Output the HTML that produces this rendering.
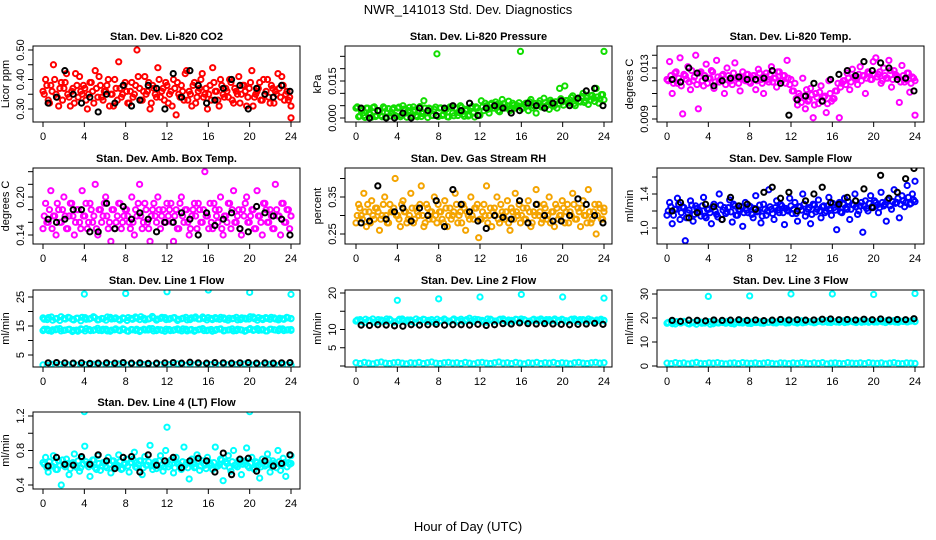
<!DOCTYPE html>
<html><head><meta charset="utf-8"><style>
html,body{margin:0;padding:0;background:#fff;}
svg{display:block;font-family:"Liberation Sans",sans-serif;}
</style></head><body>
<svg id="chart" width="936" height="540" viewBox="0 0 936 540" xmlns="http://www.w3.org/2000/svg">
<rect width="936" height="540" fill="#fff"/>
<text x="468" y="14" text-anchor="middle" font-size="13">NWR_141013  Std. Dev. Diagnostics</text>
<text x="468" y="531" text-anchor="middle" font-size="13">Hour of Day (UTC)</text>
</svg>
<script>
const xTicks=[0,4,8,12,16,20,24];
const co2Color=[0.36,0.40,0.33,0.38,0.45,0.35,0.31,0.39,0.37,0.42,0.34,0.36,0.32,0.38,0.41,0.35,0.37,0.30,0.39,0.36,0.43,0.34,0.38,0.33,0.36,0.40,0.35,0.31,0.37,0.46,0.34,0.38,0.36,0.32,0.39,0.35,0.50,0.37,0.33,0.41,0.36,0.30,0.38,0.35,0.44,0.34,0.37,0.39,0.32,0.36,0.40,0.28,0.35,0.38,0.33,0.43,0.36,0.31,0.39,0.34,0.37,0.42,0.35,0.30,0.38,0.44,0.36,0.33,0.40,0.35,0.37,0.34,0.39,0.32,0.36,0.41,0.35,0.38,0.31,0.37,0.43,0.34,0.36,0.39,0.33,0.35,0.40,0.32,0.37,0.36,0.42,0.34,0.38,0.35,0.33,0.27];
const co2ColorB=[0.35,0.38,0.32,0.36,0.40,0.34,0.37,0.33,0.39,0.35,0.31,0.37,0.42,0.34,0.36,0.38,0.33,0.35,0.39,0.32,0.37,0.41,0.34,0.36,0.38,0.31,0.35,0.40,0.33,0.37,0.35,0.39,0.32,0.36,0.34,0.38,0.41,0.33,0.36,0.35,0.39,0.32,0.37,0.34,0.40,0.36,0.33,0.38,0.35,0.31,0.37,0.39,0.34,0.36,0.42,0.33,0.35,0.38,0.32,0.36,0.40,0.34,0.37,0.35,0.33,0.39,0.36,0.31,0.38,0.34,0.36,0.40,0.33,0.37,0.35,0.32,0.38,0.36,0.34,0.39,0.31,0.35,0.37,0.33,0.40,0.36,0.34,0.38,0.32,0.35,0.37,0.41,0.33,0.36,0.34,0.31];
const co2Black=[0.32,0.34,0.43,0.35,0.32,0.34,0.29,0.35,0.32,0.38,0.31,0.33,0.38,0.37,0.30,0.42,0.34,0.43,0.38,0.32,0.33,0.37,0.40,0.38,0.30,0.37,0.35,0.34,0.38,0.36];
const presColor=[0.004,0.0005,0.003,0.001,0.004,0.002,0.0003,0.0045,0.001,0.003,0.0005,0.004,0.002,0.0008,0.0035,0.001,0.004,0.0005,0.005,0.002,0.003,0.0004,0.0045,0.001,0.003,0.0006,0.007,0.002,0.004,0.001,0.0035,0.026,0.004,0.001,0.003,0.0005,0.0045,0.002,0.004,0.001,0.005,0.0015,0.003,0.0008,0.004,0.002,0.0045,0.001,0.007,0.003,0.005,0.002,0.006,0.004,0.0055,0.0025,0.0075,0.004,0.005,0.003,0.006,0.004,0.005,0.027,0.004,0.006,0.003,0.0075,0.005,0.002,0.006,0.0045,0.008,0.005,0.0035,0.0065,0.005,0.004,0.012,0.0065,0.013,0.007,0.006,0.009,0.005,0.008,0.0065,0.01,0.007,0.0055,0.009,0.008,0.012,0.006,0.0095,0.027];
const presColorB=[0.0045,0.0008,0.0035,0.0002,0.004,0.0015,0.0042,0.0006,0.003,0.001,0.0045,0.0004,0.0038,0.002,0.0041,0.0007,0.0044,0.0012,0.0036,0.0003,0.0043,0.0009,0.0033,0.0005,0.0046,0.0018,0.004,0.0002,0.0037,0.001,0.0044,0.0006,0.0041,0.0014,0.0035,0.0004,0.0045,0.0009,0.0039,0.0022,0.0043,0.0007,0.0036,0.0012,0.0047,0.0004,0.004,0.0011,0.0045,0.006,0.0035,0.0055,0.004,0.0065,0.003,0.005,0.0058,0.0042,0.0068,0.0036,0.0052,0.0047,0.0062,0.0038,0.0055,0.0048,0.0066,0.0041,0.0059,0.005,0.007,0.0044,0.0062,0.0053,0.0072,0.0048,0.0066,0.0057,0.0078,0.0052,0.0071,0.0062,0.0083,0.0058,0.0075,0.0068,0.0088,0.0063,0.0081,0.0072,0.0092,0.0067,0.0085,0.0077,0.0095,0.0074];
const presBlack=[0.004,0,0.003,0,0,0.002,0,0.004,0.003,0.001,0.004,0.005,0.003,0.006,0.001,0.004,0.005,0.004,0.002,0.003,0.006,0.005,0.004,0.006,0.007,0.005,0.008,0.011,0.012,0.005];
const tempColor=[.0121,.0135,.0110,.0126,.0118,.0138,.0094,.0124,.0131,.0113,.0120,.0140,.0098,.0127,.0116,.0133,.0122,.0128,.0114,.0136,.0119,.0124,.0110,.0130,.0121,.0117,.0134,.0123,.0112,.0127,.0120,.0125,.0118,.0124,.0113,.0129,.0121,.0110,.0126,.0119,.0131,.0122,.0115,.0127,.0120,.0124,.0136,.0117,.0112,.0118,.0101,.0108,.0122,.0098,.0104,.0114,.0091,.0110,.0102,.0116,.0107,.0095,.0120,.0104,.0106,.0112,.0091,.0118,.0120,.0126,.0113,.0129,.0122,.0117,.0131,.0124,.0110,.0127,.0121,.0135,.0138,.0125,.0118,.0130,.0122,.0136,.0115,.0128,.0124,.0103,.0132,.0119,.0126,.0111,.0123,.0093];
const tempColorB=[.0120,.0124,.0118,.0127,.0122,.0116,.0125,.0121,.0119,.0128,.0123,.0117,.0126,.0120,.0124,.0118,.0122,.0127,.0119,.0123,.0121,.0125,.0117,.0124,.0120,.0126,.0122,.0118,.0123,.0121,.0125,.0119,.0122,.0124,.0120,.0126,.0118,.0123,.0121,.0125,.0119,.0122,.0127,.0120,.0124,.0118,.0122,.0121,.0112,.0106,.0110,.0103,.0108,.0113,.0105,.0109,.0101,.0107,.0111,.0104,.0108,.0102,.0110,.0106,.0112,.0118,.0115,.0120,.0117,.0122,.0119,.0123,.0121,.0125,.0120,.0124,.0122,.0126,.0121,.0125,.0123,.0127,.0120,.0124,.0122,.0128,.0121,.0125,.0123,.0119,.0124,.0121,.0126,.0118,.0122,.0120];
const tempBlack=[.0121,.0119,.0130,.0126,.0122,.0116,.0120,.0122,.0123,.0121,.0121,.0122,.0128,.0118,.0093,.0105,.0108,.0118,.0104,.0121,.0125,.0128,.0124,.0135,.0128,.0134,.0130,.0121,.0122,.0112];
const ambColor=[.15,.19,.16,.21,.17,.14,.18,.16,.20,.15,.17,.19,.14,.18,.16,.21,.17,.15,.19,.16,.22,.14,.18,.17,.20,.15,.13,.18,.16,.19,.15,.17,.18,.16,.20,.14,.17,.22,.15,.19,.16,.13,.18,.17,.20,.15,.18,.16,.17,.19,.13,.18,.15,.20,.16,.18,.14,.17,.19,.15,.18,.16,.24,.17,.19,.15,.18,.16,.20,.14,.17,.19,.15,.21,.16,.18,.14,.17,.20,.16,.18,.15,.21,.17,.14,.19,.16,.18,.15,.22,.17,.14,.19,.16,.18,.17];
const ambColorB=[.17,.16,.18,.15,.17,.19,.16,.18,.17,.15,.19,.17,.16,.18,.15,.17,.19,.16,.18,.17,.15,.18,.16,.19,.17,.16,.18,.15,.17,.19,.16,.18,.17,.15,.16,.18,.19,.17,.16,.18,.15,.17,.19,.16,.18,.17,.16,.19,.18,.16,.17,.15,.19,.17,.18,.16,.15,.18,.17,.19,.16,.18,.17,.15,.16,.19,.17,.18,.15,.17,.16,.19,.18,.16,.17,.15,.18,.19,.16,.17,.18,.15,.17,.16,.19,.18,.16,.17,.15,.18,.17,.19,.16,.18,.15,.17];
const ambBlack=[.165,.16,.165,.18,.18,.145,.145,.19,.15,.185,.165,.175,.165,.145,.16,.16,.175,.165,.14,.175,.155,.165,.175,.15,.145,.185,.175,.17,.165,.14];
const rhColor=[.28,.33,.30,.36,.27,.31,.34,.29,.32,.26,.30,.35,.28,.33,.31,.40,.30,.27,.34,.31,.29,.36,.28,.32,.30,.38,.27,.33,.29,.31,.35,.28,.31,.29,.34,.27,.32,.30,.36,.28,.31,.33,.26,.30,.35,.29,.32,.24,.29,.33,.38,.30,.27,.32,.35,.28,.31,.29,.34,.26,.31,.36,.30,.28,.32,.29,.34,.27,.31,.37,.30,.28,.33,.29,.35,.31,.27,.32,.30,.34,.28,.33,.31,.36,.29,.32,.27,.34,.30,.37,.28,.31,.25,.33,.29,.32];
const rhColorB=[.30,.32,.29,.31,.33,.28,.30,.32,.31,.29,.33,.30,.28,.31,.32,.30,.29,.33,.31,.28,.30,.32,.29,.31,.33,.30,.28,.32,.31,.29,.30,.33,.31,.28,.32,.30,.29,.31,.33,.30,.28,.32,.31,.29,.30,.32,.33,.29,.31,.30,.28,.32,.31,.30,.29,.33,.30,.31,.28,.32,.29,.31,.33,.30,.29,.32,.31,.28,.30,.33,.31,.29,.32,.30,.28,.31,.33,.29,.30,.32,.31,.28,.30,.33,.29,.31,.32,.30,.28,.31,.29,.33,.30,.32,.29,.31];
const rhBlack=[.28,.285,.38,.29,.31,.32,.285,.32,.30,.34,.27,.37,.33,.31,.285,.265,.30,.295,.29,.34,.28,.33,.30,.285,.285,.30,.345,.33,.30,.28];
const flowColor=[1.15,1.30,1.05,1.22,1.35,1.10,1.25,0.85,1.18,1.32,1.08,1.26,1.20,1.14,1.36,1.12,1.22,1.05,1.28,1.16,1.40,1.10,1.24,1.19,1.33,1.07,1.26,1.15,1.21,1.02,1.30,1.18,1.25,1.12,1.38,1.20,1.06,1.28,1.15,1.45,1.22,1.10,1.32,1.18,1.26,1.04,1.21,1.35,1.17,1.30,1.08,1.25,1.40,1.14,1.22,1.05,1.28,1.19,1.33,1.12,1.26,1.20,1.36,1.15,1.24,0.98,1.30,1.18,1.35,1.22,1.10,1.28,1.40,1.16,1.26,0.95,1.32,1.20,1.38,1.24,1.30,1.18,1.42,1.26,1.08,1.35,1.22,1.45,1.30,1.12,1.38,1.25,1.50,1.28,1.40,1.55];
const flowColorB=[1.20,1.25,1.15,1.22,1.28,1.18,1.24,1.12,1.21,1.27,1.16,1.23,1.19,1.26,1.14,1.22,1.18,1.25,1.20,1.13,1.27,1.21,1.17,1.24,1.19,1.28,1.15,1.22,1.25,1.18,1.21,1.26,1.16,1.23,1.19,1.27,1.14,1.22,1.20,1.25,1.17,1.24,1.21,1.28,1.18,1.23,1.20,1.26,1.22,1.17,1.25,1.21,1.28,1.19,1.24,1.16,1.27,1.22,1.20,1.25,1.18,1.26,1.23,1.29,1.21,1.26,1.19,1.28,1.24,1.31,1.22,1.27,1.25,1.20,1.30,1.26,1.23,1.29,1.25,1.32,1.27,1.24,1.30,1.28,1.33,1.26,1.31,1.29,1.35,1.28,1.32,1.30,1.36,1.29,1.33,1.31];
const flowBlack=[1.20,1.30,1.12,1.18,1.28,1.25,1.10,1.36,1.26,1.28,1.22,1.42,1.48,1.35,1.42,1.20,1.32,1.40,1.48,1.30,1.28,1.36,1.32,1.46,1.24,1.62,1.35,1.42,1.58,1.70];
const l1Top=[17.8,17.2,18.1,17.5,16.9,17.6,18.0,17.3,17.7,16.8,17.9,17.4,18.2,17.1,17.6,17.0,18.0,17.5,17.3,17.8,16.9,17.6,18.1,17.2,17.7,17.4,18.3,17.0,17.6,17.9,17.3,17.8,16.9,17.5,18.0,17.2,17.7,17.4,18.1,17.1,17.6,17.9,17.3,17.8,17.0,17.5,18.0,17.2,17.7,17.4,18.1,17.0,17.6,17.9,17.3,17.8,17.1,17.5,18.0,17.6];
const l1TopB=[17.3,17.9,17.0,17.6,18.2,17.4,17.8,17.1,17.7,18.0,17.3,17.6,17.9,17.2,17.5,18.1,17.4,17.8,17.0,17.6,17.9,17.3,17.7,18.2,17.1,17.5,17.8,17.4,18.0,17.2,17.6,17.9,17.3,17.7,17.1,17.8,18.1,17.4,17.6,17.9,17.2,17.5,18.0,17.3,17.7,17.6,17.1,17.8,17.4,18.2,17.5,17.9,17.2,17.6,18.0,17.4,17.7,17.3,17.8,17.5];
const l1Mid=[13.4,13.9,13.2,13.7,14.1,13.5,13.8,13.1,13.6,14.0,13.3,13.8,13.5,14.2,13.4,13.9,13.2,13.7,13.6,14.0,13.3,13.8,13.5,13.1,13.9,13.6,14.1,13.4,13.7,13.2,13.8,13.5,14.0,13.3,13.9,13.6,13.2,13.7,14.1,13.4,13.8,13.5,13.9,13.3,13.6,14.0,13.4,13.7,13.2,13.8,13.5,14.1,13.6,13.3,13.9,13.7,13.4,14.0,13.6,13.8];
const l1MidB=[13.9,13.4,13.7,14.0,13.3,13.6,13.9,13.5,13.2,13.8,14.1,13.4,13.7,13.5,13.9,13.3,13.6,14.0,13.4,13.8,13.2,13.7,13.9,13.5,13.6,14.1,13.3,13.8,13.5,13.9,13.4,13.7,13.6,14.0,13.3,13.8,13.5,13.9,13.4,13.6,13.2,13.8,14.0,13.5,13.7,13.3,13.9,13.6,13.4,14.1,13.7,13.5,13.8,13.3,13.9,13.6,14.0,13.4,13.7,13.5];
const l1Low=[1.6,1.4,1.8,1.5,1.7,1.3,1.6,1.9,1.5,1.4,1.7,1.6,1.8,1.5,1.3,1.6,1.7,1.4,1.9,1.6,1.5,1.8,1.4,1.6,1.7,1.5,1.3,1.8,1.6,1.4,1.7,1.5,1.9,1.6,1.4,1.7,1.5,1.8,1.3,1.6,1.7,1.5,1.4,1.8,1.6,1.5,1.7,1.4,1.9,1.6,1.5,1.7,1.3,1.6,1.8,1.5,1.4,1.7,1.6,1.5];
const l1Black=[2.3,2.4,2.3,2.2,2.3,2.1,2.2,2.3,2.2,2.4,2.2,2.3,2.1,2.2,2.3,2.4,2.2,2.5,2.3,2.2,2.4,2.3,2.2,2.3,2.4,2.2,2.3,2.2,2.3,2.4];
const l1OutHours=[4,8,12,16,20,24];
const l1Out=[26.0,26.2,26.8,27.4,26.6,25.9];
const l2Top=[12.3,12.7,11.9,12.5,12.9,12.1,12.6,12.2,12.8,12.0,12.4,12.9,12.3,12.6,11.9,12.5,12.8,12.2,12.7,12.0,12.4,12.9,12.3,12.6,12.1,12.8,12.4,13.1,12.2,12.7,12.5,12.0,12.8,12.3,12.6,12.9,12.1,12.5,12.8,12.3,12.7,12.0,12.6,12.4,12.9,12.2,12.7,12.5,12.1,12.8,12.4,12.6,12.9,12.2,12.7,12.3,12.6,12.1,12.5,12.4];
const l2TopB=[12.6,12.2,12.8,12.4,12.0,12.7,12.3,12.9,12.5,12.1,12.8,12.4,12.6,12.2,12.9,12.3,12.7,12.5,12.1,12.8,12.4,12.6,12.2,12.9,12.5,12.3,12.7,12.4,12.8,12.6,12.2,12.9,12.5,12.3,12.8,12.4,12.6,12.2,12.7,12.9,12.5,12.3,12.8,12.6,12.4,12.7,12.3,12.9,12.5,12.6,12.2,12.8,12.4,12.7,12.5,12.9,12.3,12.6,12.8,12.5];
const l2Low=[0.9,0.7,1.0,0.8,0.6,0.9,1.1,0.8,0.7,0.9,1.0,0.8,0.6,0.9,0.8,1.0,0.7,0.9,1.1,0.8,0.7,0.9,1.0,0.8,0.9,0.7,1.0,0.8,0.6,0.9,1.0,0.8,0.7,0.9,1.1,0.8,0.9,0.7,1.0,0.8,0.6,0.9,0.8,1.0,0.7,0.9,0.8,1.0,0.7,0.9,0.8,0.6,0.9,1.0,0.8,0.7,0.9,1.0,0.8,0.9];
const l2Black=[11.2,11.1,11.3,11.2,11.0,10.9,11.3,11.2,11.3,11.4,11.2,11.3,11.3,11.2,11.4,11.1,11.3,11.6,11.5,11.8,11.6,11.5,11.6,11.5,11.4,11.3,11.4,11.5,11.7,11.4];
const l2OutHours=[4,8,12,16,20,24];
const l2Out=[18.0,18.4,18.9,19.6,18.9,18.6];
const l3Top=[17.8,18.4,17.5,18.1,18.6,17.7,18.2,17.4,18.3,17.9,18.5,17.6,18.0,18.4,17.8,18.2,17.5,18.6,17.9,18.3,17.7,18.1,18.5,17.8,18.2,18.7,17.9,18.3,18.6,18.0,18.4,17.9,18.8,18.2,18.5,18.0,18.6,18.3,18.9,18.1,18.5,18.2,18.8,18.3,18.6,18.1,18.7,18.4,18.2,18.8,18.3,18.6,18.1,18.5,18.9,18.2,18.6,18.4,18.7,18.5];
const l3TopB=[18.2,17.6,18.5,17.9,18.3,17.5,18.0,18.6,17.8,18.2,17.4,18.4,17.9,18.1,18.6,17.7,18.3,18.0,18.5,17.8,18.4,18.1,17.9,18.6,18.2,18.0,18.5,18.3,17.9,18.7,18.2,18.4,18.0,18.6,18.3,18.1,18.7,18.4,18.2,18.8,18.3,18.5,18.1,18.7,18.4,18.6,18.2,18.8,18.5,18.3,18.7,18.4,18.9,18.5,18.3,18.8,18.6,18.4,18.9,18.6];
const l3Low=[1.2,1.0,1.4,1.1,1.3,0.9,1.2,1.5,1.1,1.0,1.3,1.2,1.4,1.1,0.9,1.2,1.3,1.0,1.4,1.2,1.1,1.3,1.0,1.2,1.4,1.1,0.9,1.3,1.2,1.0,1.3,1.1,1.4,1.2,1.0,1.3,1.1,1.4,0.9,1.2,1.3,1.1,1.0,1.4,1.2,1.1,1.3,1.0,1.4,1.2,1.1,1.3,0.9,1.2,1.4,1.1,1.0,1.3,1.2,1.1];
const l3Black=[19.0,18.6,19.1,19.0,18.8,19.2,19.0,19.1,19.3,19.0,19.2,18.9,19.1,19.4,19.2,19.3,19.1,19.2,19.5,19.6,19.3,19.4,19.2,19.5,19.3,19.6,19.2,19.4,19.3,19.7];
const l3OutHours=[4,8,12,16,20,24];
const l3Out=[29.0,29.2,30.0,30.0,29.8,30.2];
const l4Color=[.66,.72,.55,.62,.74,.58,.68,.40,.63,.70,.52,.65,.76,.60,.56,.71,.85,.64,.50,.69,.60,.74,.57,.66,.62,.72,.54,.68,.61,.75,.58,.64,.70,.55,.66,.78,.60,.68,.52,.73,.63,.86,.58,.67,.62,.74,.56,.80,.61,.69,.54,.72,.64,.58,.84,.66,.47,.70,.60,.75,.57,.68,.63,.72,.65,.58,.84,.62,.70,.45,.67,.74,.56,.80,.63,.69,.52,.66,.83,.60,.72,.58,.66,.48,.70,.62,.76,.55,.68,.64,.80,.57,.71,.50,.66,.74];
const l4ColorB=[.64,.60,.67,.62,.66,.58,.63,.69,.61,.65,.59,.66,.62,.68,.60,.64,.67,.61,.63,.69,.58,.65,.62,.66,.60,.64,.68,.61,.63,.67,.59,.65,.62,.66,.70,.61,.64,.68,.60,.63,.67,.62,.65,.59,.68,.63,.61,.66,.64,.69,.60,.65,.62,.67,.63,.60,.66,.64,.61,.68,.62,.65,.59,.67,.63,.66,.61,.64,.69,.62,.65,.60,.67,.63,.61,.66,.64,.68,.62,.65,.60,.67,.63,.61,.66,.64,.69,.62,.65,.60,.67,.63,.66,.61,.64,.65];
const l4Black=[.62,.72,.64,.63,.73,.64,.75,.68,.59,.72,.73,.55,.75,.63,.68,.72,.60,.68,.71,.68,.55,.77,.52,.70,.71,.56,.68,.62,.65,.75];
const l4OutHours=[4,12,20];
const l4Out=[1.25,1.07,1.25];

const svg=document.getElementById('chart');
const NS='http://www.w3.org/2000/svg';
function mk(tag,attrs,parent){const e=document.createElementNS(NS,tag);for(const k in attrs)e.setAttribute(k,attrs[k]);(parent||svg).appendChild(e);return e;}
const colX=[{l:33,r:300,x0:43},{l:345,r:612,x0:356},{l:657,r:924,x0:667}];
const rowY=[{t:46,b:122},{t:168,b:244},{t:290,b:367},{t:412,b:489}];
const panels=[
 {name:'co2',title:'Stan. Dev. Li-820 CO2',ylab:'Licor ppm',c:0,r:0,v0:0.30,p0:109,v1:0.50,p1:50,ticks:[.30,.35,.40,.45,.50],labels:[.30,.40,.50],dec:2,color:'#ff0000',series:[co2Color,co2ColorB],black:co2Black},
 {name:'pressure',title:'Stan. Dev. Li-820 Pressure',ylab:'kPa',c:1,r:0,v0:0,p0:118,v1:0.015,p1:81,ticks:[0,.005,.010,.015,.020,.025],labels:[0,.015],dec:3,color:'#11dd00',series:[presColor,presColorB],black:presBlack},
 {name:'li820-temp',title:'Stan. Dev. Li-820 Temp.',ylab:'degrees C',c:2,r:0,v0:0.009,p0:119,v1:0.013,p1:68,ticks:[.009,.010,.011,.012,.013,.014],labels:[.009,.013],dec:3,color:'#ff00ff',series:[tempColor,tempColorB],black:tempBlack},
 {name:'amb-box-temp',title:'Stan. Dev. Amb. Box Temp.',ylab:'degrees C',c:0,r:1,v0:0.14,p0:235,v1:0.20,p1:197,ticks:[.14,.16,.18,.20,.22,.24],labels:[.14,.20],dec:2,color:'#ff00ff',series:[ambColor,ambColorB],black:ambBlack},
 {name:'gas-rh',title:'Stan. Dev. Gas Stream RH',ylab:'percent',c:1,r:1,v0:0.25,p0:234,v1:0.35,p1:197,ticks:[.25,.30,.35,.40],labels:[.25,.35],dec:2,color:'#f4a400',series:[rhColor,rhColorB],black:rhBlack},
 {name:'sample-flow',title:'Stan. Dev. Sample Flow',ylab:'ml/min',c:2,r:1,v0:1.0,p0:228,v1:1.4,p1:194,ticks:[1.0,1.2,1.4,1.6],labels:[1.0,1.4],dec:1,color:'#0000ff',series:[flowColor,flowColorB],black:flowBlack},
 {name:'line1-flow',title:'Stan. Dev. Line 1 Flow',ylab:'ml/min',c:0,r:2,v0:5,p0:355,v1:25,p1:297,ticks:[5,10,15,20,25],labels:[5,15,25],dec:0,color:'#00ffff',series:[l1Top,l1TopB,l1Mid,l1MidB,l1Low],black:l1Black,outH:l1OutHours,out:l1Out},
 {name:'line2-flow',title:'Stan. Dev. Line 2 Flow',ylab:'ml/min',c:1,r:2,v0:0,p0:366,v1:20,p1:293,ticks:[0,5,10,15,20],labels:[5,10,20],dec:0,color:'#00ffff',series:[l2Top,l2TopB,l2Low],black:l2Black,outH:l2OutHours,out:l2Out},
 {name:'line3-flow',title:'Stan. Dev. Line 3 Flow',ylab:'ml/min',c:2,r:2,v0:0,p0:366,v1:30,p1:294,ticks:[0,10,20,30],labels:[0,10,20,30],dec:0,color:'#00ffff',series:[l3Top,l3TopB,l3Low],black:l3Black,outH:l3OutHours,out:l3Out},
 {name:'line4-flow',title:'Stan. Dev. Line 4 (LT) Flow',ylab:'ml/min',c:0,r:3,v0:0.4,p0:485,v1:1.2,p1:416,ticks:[.4,.6,.8,1.0,1.2],labels:[.4,.8,1.2],dec:1,color:'#00ffff',series:[l4Color,l4ColorB],black:l4Black,outH:l4OutHours,out:l4Out}
];
panels.forEach(p=>{
 const C=colX[p.c],R=rowY[p.r];
 const xs=h=>C.x0+h*248/24;
 const ys=v=>p.p0-(v-p.v0)*(p.p0-p.p1)/(p.v1-p.v0);
 const g=mk('g',{});
 
 
 const cp=mk('clipPath',{id:'cp-'+p.name},g);
 mk('rect',{x:C.l,y:R.t,width:C.r-C.l,height:R.b-R.t},cp);
 const t=mk('text',{x:(C.l+C.r)/2,y:R.t-6,'text-anchor':'middle','font-size':'11','font-weight':'bold'},g);
 t.textContent=p.title;
 
 
 const pts=mk('g',{'clip-path':'url(#cp-'+p.name+')',fill:'none','stroke-width':'2'},g);
 
 
 p.series.forEach((s,si)=>{s.forEach((v,i)=>{
   const off=si%2?0.12:0;
   const c=mk('circle',{cx:xs(Math.min(24,i*24/(s.length-1)+off)),cy:ys(v),r:2.6,stroke:p.color},pts);
   
   
 });});
 if(p.out){p.out.forEach((v,i)=>{
   const c=mk('circle',{cx:xs(p.outH[i]),cy:ys(v),r:2.6,stroke:p.color},pts);
   
   
 });}
 p.black.forEach((v,i)=>{
   const c=mk('circle',{cx:xs(0.5+i*23.4/(p.black.length-1)),cy:ys(v),r:2.6,stroke:'#000'},pts);
   
   
 });
 const box=mk('rect',{x:C.l,y:R.t,width:C.r-C.l,height:R.b-R.t,fill:'none',stroke:'#000','stroke-width':'1'},g);
 
 
 xTicks.forEach(h=>{
   mk('line',{x1:xs(h),x2:xs(h),y1:R.b,y2:R.b+5,stroke:'#000'},g);
   const tl=mk('text',{x:xs(h),y:R.b+18,'text-anchor':'middle','font-size':'11'},g);
   tl.textContent=h;
   
   
 });
 p.ticks.forEach(v=>{const y=ys(v);if(y<R.t-1||y>R.b+1)return;mk('line',{x1:C.l-5,x2:C.l,y1:y,y2:y,stroke:'#000'},g);});
 p.labels.forEach(v=>{
   const y=ys(v);
   const tl=mk('text',{x:C.l-9,y:y,'text-anchor':'middle','font-size':'11',transform:'rotate(-90 '+(C.l-9)+' '+y+')'},g);
   tl.textContent=v.toFixed(p.dec);
   
   
 });
 const cy=(R.t+R.b)/2;
 const yl=mk('text',{x:C.l-24,y:cy,'text-anchor':'middle','font-size':'11',transform:'rotate(-90 '+(C.l-24)+' '+cy+')'},g);
 yl.textContent=p.ylab;
 
 
});
</script>
</body></html>
